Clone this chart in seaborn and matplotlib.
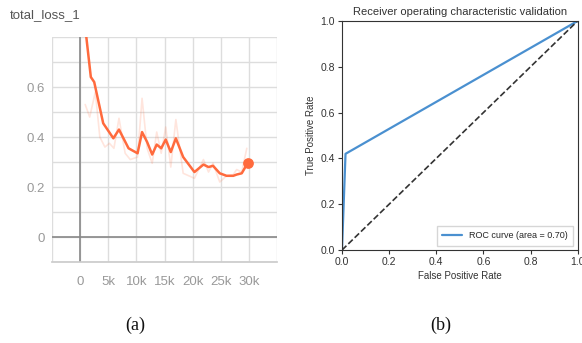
import numpy as np
import pandas as pd
import seaborn as sns
import matplotlib.pyplot as plt

# smoothed training loss (tensorboard style), steps in k
steps_k = [1.0, 1.9, 2.5, 4.1, 5.9, 6.9, 8.6, 10.2, 11.0, 11.9, 12.8, 13.6, 14.4,
           15.2, 16.1, 17.0, 18.3, 20.3, 21.9, 22.8, 23.6, 24.8, 26.0, 27.2,
           27.8, 28.7, 29.6]
loss_smooth = [0.82, 0.64, 0.62, 0.455, 0.395, 0.43, 0.355, 0.335, 0.42, 0.38,
               0.33, 0.37, 0.355, 0.39, 0.34, 0.395, 0.32, 0.26, 0.29, 0.28,
               0.285, 0.255, 0.245, 0.245, 0.25, 0.255, 0.29]
last_step_k = 29.8
last_loss = 0.295

# raw (faint) loss
raw_x = [0.9, 1.7, 2.7, 3.5, 4.4, 5.2, 6.0, 6.9, 8.0, 8.9, 10.2, 11.0, 11.9,
         12.8, 13.6, 14.4, 15.2, 16.1, 17.0, 18.3, 20.3, 21.9, 22.8, 23.6,
         24.8, 26.0, 27.2, 27.8, 28.7, 29.6]
raw_y = [0.53, 0.48, 0.58, 0.40, 0.36, 0.375, 0.355, 0.475, 0.335, 0.31, 0.32,
         0.555, 0.355, 0.295, 0.42, 0.335, 0.44, 0.28, 0.47, 0.255, 0.235, 0.31,
         0.26, 0.295, 0.22, 0.245, 0.25, 0.27, 0.26, 0.355]

# ROC curve
fpr = [0.0, 0.015, 1.0]
tpr = [0.0, 0.42, 1.0]
roc_auc = 0.70

sns.set_theme(style="white")
plt.rcParams['font.family'] = ['Liberation Sans', 'DejaVu Sans']

fig = plt.figure(figsize=(5.82, 3.43), dpi=100)

# ---- (a) loss curve ----
ax1 = fig.add_axes([0.0893, 0.236, 0.387, 0.656])
df_raw = pd.DataFrame({"step": np.array(raw_x) * 1000, "loss": raw_y})
df_sm = pd.DataFrame({"step": np.array(steps_k) * 1000, "loss": loss_smooth})
sns.lineplot(data=df_raw, x="step", y="loss", ax=ax1, color="#ff7043",
             alpha=0.18, lw=1.2)
sns.lineplot(data=df_sm, x="step", y="loss", ax=ax1, color="#ff6a3d", lw=1.8)
ax1.scatter([last_step_k * 1000], [last_loss], s=45, color="#ff6a3d", zorder=5)
ax1.set_xlim(-5000, 35000)
ax1.set_ylim(-0.1, 0.8)
ax1.set_xticks(np.arange(-5000, 35001, 5000))
ax1.set_xticklabels(["", "0", "5k", "10k", "15k", "20k", "25k", "30k", ""])
ax1.set_yticks(np.arange(-0.1, 0.81, 0.1))
ax1.set_yticklabels(["", "0", "", "0.2", "", "0.4", "", "0.6", "", ""])
ax1.grid(True, color="#dddddd", lw=1)
ax1.axhline(0, color="#888888", lw=1.2)
ax1.axvline(0, color="#888888", lw=1.2)
for s in ["top", "left", "right"]:
    ax1.spines[s].set_visible(False)
ax1.spines["bottom"].set_color("#cccccc")
ax1.tick_params(axis="both", colors="#999999", labelsize=9.5, length=0, pad=5)
ax1.tick_params(axis="x", length=3, color="#cccccc", pad=7)
ax1.set_xlabel("")
ax1.set_ylabel("")
fig.text(0.017, 0.955, "total_loss_1", fontsize=9.5, color="#555555", va="center")

# ---- (b) ROC ----
ax2 = fig.add_axes([0.5876, 0.271, 0.405, 0.668])
df_roc = pd.DataFrame({"fpr": fpr, "tpr": tpr})
sns.lineplot(data=df_roc, x="fpr", y="tpr", ax=ax2, color="#4a90d0", lw=1.6,
             label="ROC curve (area = %0.2f)" % roc_auc, sort=False)
ax2.plot([0, 1], [0, 1], color="#333333", lw=1.2, ls="--")
ax2.set_xlim(0, 1)
ax2.set_ylim(0, 1)
ax2.set_xticks(np.arange(0, 1.01, 0.2))
ax2.set_yticks(np.arange(0, 1.01, 0.2))
ax2.tick_params(axis="both", labelsize=7.5, length=3, width=0.8, colors="#333333",
                left=True, bottom=True, pad=2)
for s in ax2.spines.values():
    s.set_color("#333333")
    s.set_linewidth(0.8)
ax2.set_xlabel("False Positive Rate", fontsize=7, color="#333333", labelpad=3)
ax2.set_ylabel("True Positive Rate", fontsize=7, color="#333333", labelpad=3)
ax2.set_title("Receiver operating characteristic validation", fontsize=8,
              color="#333333", pad=4)
ax2.legend(loc="lower right", fontsize=6.5, frameon=True, handlelength=2.2,
           fancybox=False, edgecolor="#cccccc", borderpad=0.6)

# panel labels
fig.text(135 / 582, 1 - 325 / 343, "(a)", fontsize=13, family="Liberation Serif",
         ha="center", va="center", color="#111111")
fig.text(441 / 582, 1 - 325 / 343, "(b)", fontsize=13, family="Liberation Serif",
         ha="center", va="center", color="#111111")

fig.savefig("out.png", dpi=100)
